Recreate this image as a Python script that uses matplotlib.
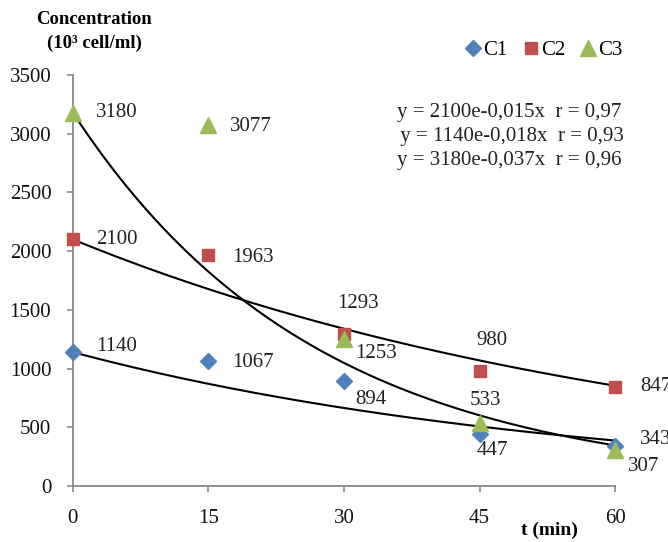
import numpy as np
import matplotlib
matplotlib.use("Agg")
import matplotlib.pyplot as plt

plt.rcParams['font.family'] = ['Liberation Serif', 'DejaVu Serif']

t = [0, 15, 30, 45, 60]
c1 = [1140, 1067, 894, 447, 343]
c2 = [2100, 1963, 1293, 980, 847]
c3 = [3180, 3077, 1253, 533, 307]
# exponential fits (a, k) as printed in the chart
fit_c2 = (2100, 0.015)
fit_c1 = (1140, 0.018)
fit_c3 = (3180, 0.037)
equations = ["y = 2100e-0,015x  r = 0,97",
             " y = 1140e-0,018x  r = 0,93",
             "y = 3180e-0,037x  r = 0,96"]

fig = plt.figure(figsize=(6.68, 5.42), dpi=100)
ax = fig.add_axes([0.109, 0.1033, 0.812, 0.7583])

blue, red, green = '#4F81BD', '#C0504D', '#9BBB59'

tt = np.linspace(0, 60, 200)
for a, k in (fit_c1, fit_c2, fit_c3):
    ax.plot(tt, a * np.exp(-k * tt), color='black', lw=1.5, zorder=2)

ax.plot(t, c1, 'D', color=blue, ms=8, ls='none', label='C1', zorder=3)
ax.plot(t, c2, 's', color=red, ms=9, ls='none', label='C2', zorder=3)
ax.plot(t, c3, '^', color=green, ms=11, ls='none', label='C3', zorder=3)

fs = 15
# label offsets in pixels (dx, dy, ha)
off1 = [(23, 6, 'left'), (24, -2, 'left'), (11, -18, 'left'), (13, -17, 'center'), (25, 6, 'left')]
off2 = [(23, 0, 'left'), (24, -2, 'left'), (14, 31, 'center'), (12, 30, 'center'), (25, 0, 'left')]
off3 = [(23, 0, 'left'), (22, -2, 'left'), (11, -15, 'left'), (6, 23, 'center'), (13, -17, 'left')]
for vals, offs in ((c1, off1), (c2, off2), (c3, off3)):
    for x, y, (dx, dy, ha) in zip(t, vals, offs):
        ax.annotate(str(y), (x, y), xytext=(dx, dy), textcoords='offset pixels',
                    ha=ha, va='center', fontsize=fs, color='#222222')

for i, eq in enumerate(equations):
    fig.text(0.762, 1 - (113 + i * 23.5) / 542, eq, ha='center', va='center',
             fontsize=fs, color='#222222')

ax.set_xlim(0, 60)
ax.set_ylim(0, 3500)
ax.set_xticks(t)
ax.set_yticks(range(0, 3501, 500))
for s in ('top', 'right'):
    ax.spines[s].set_visible(False)
for s in ('left', 'bottom'):
    ax.spines[s].set_color('#888888')
    ax.spines[s].set_linewidth(1.3)
ax.spines['bottom'].set_zorder(4)
ax.tick_params(axis='both', colors='#888888', labelcolor='#111111', labelsize=fs,
               length=4.5, width=1.2)
ax.tick_params(axis='x', pad=12)
ax.tick_params(axis='y', pad=11)
for line in ax.lines:
    line.set_clip_on(False)

fig.text(0.141, 1 - 20 / 542, "Concentration", ha='center', va='center',
         fontsize=13.5, fontweight='bold')
fig.text(0.141, 1 - 43 / 542, "(10³ cell/ml)", ha='center', va='center',
         fontsize=13.5, fontweight='bold')
fig.text(0.823, 1 - 530 / 542, "t (min)", ha='center', va='center', fontsize=14,
         fontweight='bold')

leg = ax.legend(loc='upper right', ncol=3, frameon=False, fontsize=fs,
                handletextpad=0.0, columnspacing=0.6, handlelength=1.0, borderaxespad=0)
leg.set_bbox_to_anchor((0.945, 1 - 32 / 542), transform=fig.transFigure)

fig.savefig('out.png', dpi=100)
